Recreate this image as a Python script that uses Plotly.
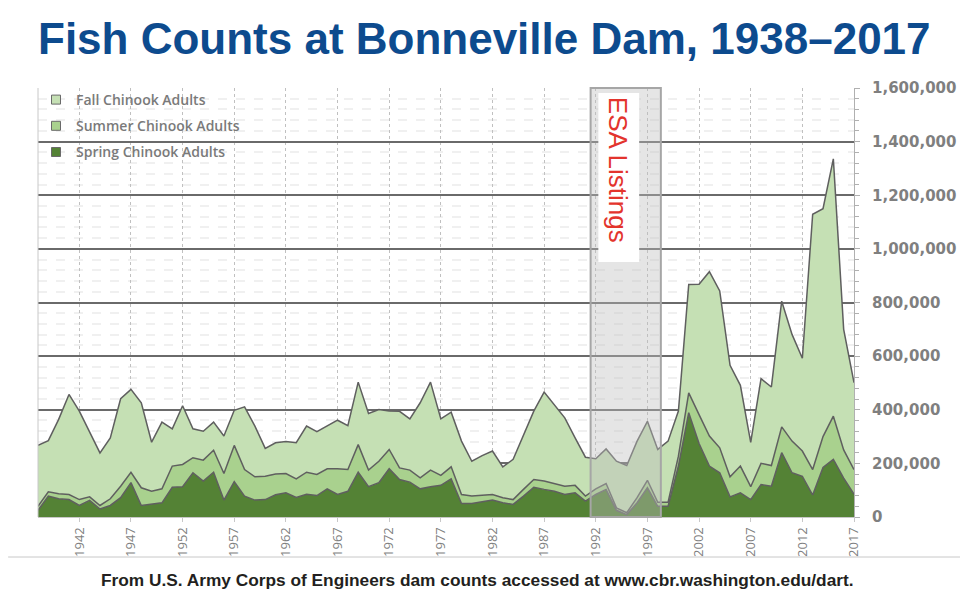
import plotly.graph_objects as go

# ---- data (thousands of fish) ----
years = list(range(1938, 2018))

spring = [25, 78, 68, 65, 43, 62, 30, 43, 72, 128,
          43, 47, 53, 111, 113, 165, 134, 167, 63, 132,
          78, 63, 65, 83, 90, 73, 85, 80, 105, 84,
          96, 167, 113, 128, 180, 140, 130, 105, 113, 118,
          142, 50, 50, 57, 63, 53, 47, 78, 111, 103,
          96, 84, 90, 59, 84, 103, 25, 9, 53, 109,
          40, 40, 190, 389, 274, 190, 165, 75, 90, 65,
          121, 115, 240, 165, 152, 82, 185, 215, 145, 85]

summer = [15, 16, 19, 19, 22, 13, 13, 25, 43, 39,
          66, 49, 52, 79, 83, 56, 78, 82, 99, 135,
          99, 87, 87, 77, 72, 69, 82, 79, 75, 96,
          81, 103, 62, 80, 72, 43, 45, 41, 62, 37,
          45, 34, 28, 23, 21, 19, 18, 25, 29, 31,
          28, 31, 28, 19, 21, 22, 9, 7, 19, 28,
          15, 15, 37, 74, 108, 112, 93, 75, 100, 48,
          79, 77, 96, 118, 94, 95, 115, 161, 105, 92]

fall = [227, 191, 277, 373, 330, 239, 196, 227, 326, 309,
        317, 183, 249, 139, 219, 108, 108, 105, 140, 131,
        234, 189, 104, 117, 120, 135, 172, 159, 161, 181,
        164, 233, 211, 193, 143, 211, 191, 280, 328, 211,
        204, 199, 130, 149, 162, 115, 150, 199, 255, 332,
        296, 255, 177, 145, 112, 129, 174, 176, 211, 220,
        197, 228, 168, 404, 486, 613, 585, 416, 301, 165,
        316, 293, 469, 398, 346, 952, 850, 960, 450, 324]

UNIT = 1000
series_names = ["Spring Chinook Adults", "Summer Chinook Adults", "Fall Chinook Adults"]
series_values = [spring, summer, fall]
series_colors = ["#548235", "#a9d18e", "#c5e0b4"]

x_ticks = list(range(1942, 2018, 5))
y_ticks = list(range(0, 1600001, 200000))
esa_start, esa_end = 1991.5, 1998.3

# page body adds an 8px margin; figure is sized to fit the window
W, H = 960, 593
ML, MR, MT, MB = 30, 110, 80, 84
PW, PH = W - ML - MR, H - MT - MB


def px_x(px):  # page pixel x -> paper x
    return (px - 8 - ML) / PW


def px_y(py):  # page pixel y -> paper y
    return 1 - (py - 8 - MT) / PH


fig = go.Figure()
for name, vals, col in zip(series_names, series_values, series_colors):
    fig.add_trace(go.Scatter(
        x=years, y=[v * UNIT for v in vals], name=name,
        mode="lines", stackgroup="one",
        line=dict(color="#5f5f5f", width=1.5),
        fillcolor=col, showlegend=False,
    ))
# legend swatches (small squares), listed top-down: Fall, Summer, Spring
for name, col in reversed(list(zip(series_names, series_colors))):
    fig.add_trace(go.Scatter(
        x=[None], y=[None], name=name, mode="markers",
        marker=dict(symbol="square", size=9, color=col, line=dict(color="#6a6a6a", width=1)),
        legendgroup=name, showlegend=True,
    ))

grey = "#7f7f7f"
fig.update_layout(
    width=W, height=H,
    margin=dict(l=ML, r=MR, t=MT, b=MB),
    paper_bgcolor="white", plot_bgcolor="white",
    showlegend=True,
    legend=dict(x=px_x(36), y=px_y(84), xanchor="left", yanchor="top",
                traceorder="grouped", tracegroupgap=5, itemwidth=30,
                bgcolor="rgba(0,0,0,0)",
                font=dict(family="Open Sans", size=14, color="#7a7a7a", weight=600)),
    title=dict(text="Fish Counts at Bonneville Dam, 1938\u20132017",
               x=ML / W, xanchor="left", y=1 - 31 / H, yanchor="middle",
               font=dict(family="Liberation Sans", size=44, color="#0d4b8e", weight="bold")),
    xaxis=dict(range=[1938, 2017], tickvals=x_ticks, tickangle=-90,
               tickfont=dict(family="Open Sans", size=13, color=grey),
               showgrid=True, gridcolor="#c0c0c0", griddash="dot", gridwidth=1,
               showline=True, linecolor="#c8c8c8", linewidth=1,
               ticks="outside", ticklen=4, tickcolor="#c8c8c8", zeroline=False),
    yaxis=dict(range=[0, 1600000], side="right", tickvals=y_ticks, tickformat=",",
               tickfont=dict(family="DejaVu Sans", size=15, color=grey, weight="bold"),
               showgrid=True, gridcolor="#6a6a6a", gridwidth=1.5,
               showline=True, linecolor="#b0b0b0", linewidth=1,
               ticks="outside", ticklen=5, tickcolor="#b0b0b0",
               ticklabelstandoff=9, zeroline=False,
               minor=dict(dtick=40000, showgrid=True, gridcolor="#f0f0f0", griddash="dash",
                          ticks="outside", ticklen=4, tickcolor="#b0b0b0")),
)

# plot-area left border
fig.add_shape(type="line", xref="paper", yref="paper", x0=0, x1=0, y0=0, y1=1,
              line=dict(color="#c8c8c8", width=1))
# ESA listing period
fig.add_shape(type="rect", xref="x", yref="paper", x0=esa_start, x1=esa_end, y0=0, y1=1,
              fillcolor="rgba(190,190,190,0.4)", line=dict(color="#a6a6a6", width=2),
              layer="above")
fig.add_shape(type="rect", xref="x", yref="paper", x0=1992.25, x1=1996.2,
              y0=px_y(262), y1=px_y(93),
              fillcolor="white", line=dict(width=0), layer="above")
fig.add_annotation(text="ESA Listings", xref="x", yref="paper", x=1994.17, y=px_y(95),
                   textangle=90, showarrow=False,
                   font=dict(family="Liberation Sans", size=26, color="#e3342d"))
# separator + caption
fig.add_shape(type="line", xref="paper", yref="paper", x0=px_x(8), x1=px_x(968),
              y0=px_y(557), y1=px_y(557),
              line=dict(color="#c8c8c8", width=1))
fig.add_annotation(text="From U.S. Army Corps of Engineers dam counts accessed at www.cbr.washington.edu/dart.",
                   xref="paper", yref="paper", x=px_x(480), y=px_y(580),
                   xanchor="center", yanchor="middle", showarrow=False,
                   font=dict(family="Liberation Sans", size=17.3, color="#231f20", weight="bold"))

fig.write_html("out.html")
